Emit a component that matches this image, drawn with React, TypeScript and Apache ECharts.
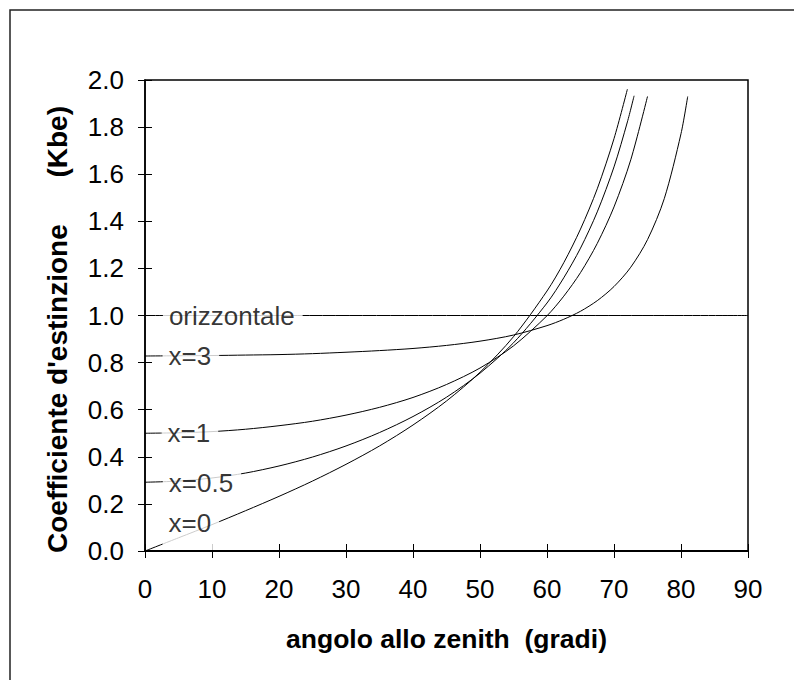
import React, { useEffect, useRef } from "react";
import * as echarts from "echarts";

// zenith angle (degrees) and extinction coefficient Kbe
const anglesX0 = [0, 5, 10, 15, 20, 25, 30, 35, 40, 45, 50, 55, 60, 62.5, 65, 67.5, 70, 72];
const kbeX0 = [0, 0.056, 0.112, 0.171, 0.232, 0.297, 0.368, 0.446, 0.535, 0.637, 0.759, 0.91, 1.104, 1.224, 1.367, 1.538, 1.751, 1.961];

const anglesX05 = [0, 5, 10, 15, 20, 25, 30, 35, 40, 45, 50, 55, 60, 62.5, 65, 67.5, 70, 72, 73];
const kbeX05 = [0.292, 0.297, 0.31, 0.331, 0.361, 0.399, 0.446, 0.503, 0.571, 0.653, 0.755, 0.884, 1.053, 1.16, 1.286, 1.44, 1.631, 1.822, 1.933];

const anglesX1 = [0, 5, 10, 15, 20, 25, 30, 35, 40, 45, 50, 55, 60, 62.5, 65, 67.5, 70, 72.5, 75];
const kbeX1 = [0.5, 0.502, 0.507, 0.517, 0.532, 0.551, 0.577, 0.61, 0.652, 0.707, 0.777, 0.871, 0.999, 1.082, 1.182, 1.306, 1.461, 1.661, 1.93];

const anglesX3 = [0, 5, 10, 15, 20, 25, 30, 35, 40, 45, 50, 55, 60, 62.5, 65, 67.5, 70, 72.5, 75, 77.5, 80, 81];
const kbeX3 = [0.828, 0.829, 0.83, 0.832, 0.834, 0.838, 0.844, 0.851, 0.86, 0.873, 0.891, 0.917, 0.957, 0.984, 1.018, 1.063, 1.123, 1.205, 1.322, 1.496, 1.772, 1.93];

const anglesHoriz = [0, 90];
const kbeHoriz = [1, 1];

const curveLabelTexts = ["orizzontale", "x=3", "x=1", "x=0.5", "x=0"];
const curveLabelAngles = [13.1, 6.85, 6.7, 8.5, 6.85];
const curveLabelKbe = [1.0, 0.828, 0.5, 0.29, 0.119];

const xTitle = "angolo allo zenith  (gradi)";
const yTitle = "Coefficiente d'estinzione      (Kbe)";

const FONT = "'Liberation Sans', Arial, Helvetica, sans-serif";

const zip = (xs: number[], ys: number[]) => xs.map((x, i) => [x, ys[i]]);

export default function App() {
  const ref = useRef<HTMLDivElement>(null);

  useEffect(() => {
    document.body.style.margin = "0";
    if (!ref.current) return;
    const chart = echarts.init(ref.current, undefined, { renderer: "svg" });

    const lineSeries = (data: number[][]) => ({
      type: "line",
      data,
      xAxisIndex: 0,
      yAxisIndex: 0,
      showSymbol: false,
      symbol: "none",
      smooth: 0.3,
      lineStyle: { color: "#000", width: 1 },
      z: 2,
      silent: true,
    });

    const baseX = {
      type: "value",
      min: 0,
      max: 90,
      interval: 10,
      gridIndex: 0,
      splitLine: { show: false },
    };
    const baseY = {
      type: "value",
      min: 0,
      max: 2,
      interval: 0.2,
      gridIndex: 0,
      splitLine: { show: false },
    };

    chart.setOption({
      animation: false,
      backgroundColor: "#fff",
      grid: {
        left: 145,
        right: 46,
        top: 80,
        bottom: 129,
        show: true,
        borderColor: "#000",
        borderWidth: 1.5,
        backgroundColor: "transparent",
      },
      xAxis: [
        {
          ...baseX,
          position: "bottom",
          axisLine: { show: true, lineStyle: { color: "#000", width: 2 } },
          axisTick: { show: true, inside: false, length: 7, lineStyle: { color: "#000", width: 1 } },
          axisLabel: { color: "#000", fontSize: 26, fontFamily: FONT, margin: 25 },
          name: xTitle,
          nameLocation: "middle",
          nameGap: 74,
          nameTextStyle: { color: "#000", fontSize: 26.5, fontWeight: "bold", fontFamily: FONT },
        },
        {
          ...baseX,
          position: "bottom",
          axisLine: { show: false },
          axisTick: { show: true, inside: true, length: 7, lineStyle: { color: "#000", width: 1 } },
          axisLabel: { show: false },
        },
      ],
      yAxis: [
        {
          ...baseY,
          position: "left",
          axisLine: { show: true, lineStyle: { color: "#000", width: 1.5 } },
          axisTick: { show: true, inside: false, length: 7, lineStyle: { color: "#000", width: 1 } },
          axisLabel: {
            color: "#000",
            fontSize: 26,
            fontFamily: FONT,
            margin: 21,
            formatter: (v: number) => v.toFixed(1),
          },
          name: yTitle,
          nameLocation: "middle",
          nameGap: 74,
          nameRotate: 90,
          nameTextStyle: {
            color: "#000",
            fontSize: 28,
            fontWeight: "bold",
            fontFamily: FONT,
            padding: [0, 28, 0, 0],
          },
        },
        {
          ...baseY,
          position: "left",
          axisLine: { show: false },
          axisTick: { show: true, inside: true, length: 7, lineStyle: { color: "#000", width: 1 } },
          axisLabel: { show: false },
        },
      ],
      series: [
        lineSeries(zip(anglesHoriz, kbeHoriz)),
        lineSeries(zip(anglesX3, kbeX3)),
        lineSeries(zip(anglesX1, kbeX1)),
        lineSeries(zip(anglesX05, kbeX05)),
        lineSeries(zip(anglesX0, kbeX0)),
        {
          type: "scatter",
          xAxisIndex: 0,
          yAxisIndex: 0,
          symbolSize: 1,
          itemStyle: { color: "rgba(0,0,0,0)" },
          z: 10,
          silent: true,
          data: curveLabelTexts.map((t, i) => ({
            value: [curveLabelAngles[i], curveLabelKbe[i]],
            name: t,
            label: i === curveLabelTexts.length - 1 ? { padding: [8, 8, 16, 6] } : undefined,
          })),
          label: {
            show: true,
            position: "inside",
            formatter: (p: any) => p.name,
            color: "#000",
            fontSize: 26,
            fontFamily: FONT,
            lineHeight: 30,
            backgroundColor: "#fff",
            padding: [8, 8, 8, 6],
          },
        },
      ],
      graphic: [
        {
          type: "rect",
          silent: true,
          shape: { x: 10, y: 10, width: 1000, height: 1000 },
          style: { fill: "none", stroke: "#222", lineWidth: 1.5 },
          z: 100,
        },
      ],
    });

    return () => chart.dispose();
  }, []);

  return <div ref={ref} style={{ width: 794, height: 680 }} />;
}
